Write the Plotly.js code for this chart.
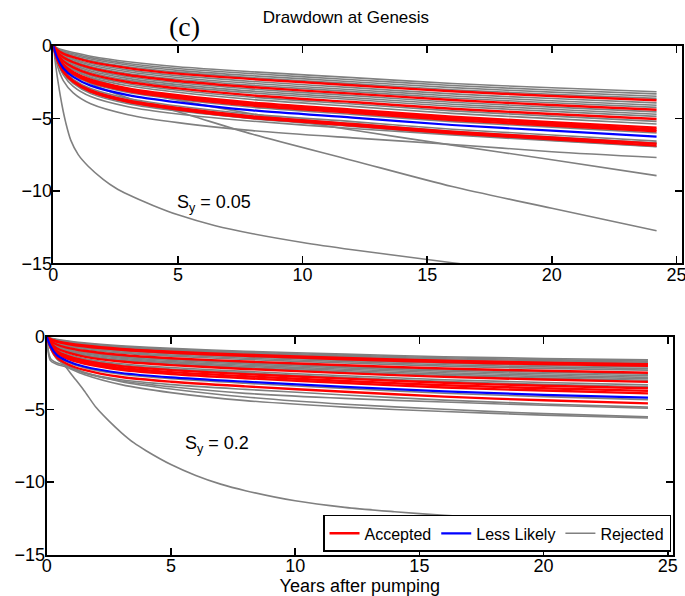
<!DOCTYPE html>
<html><head><meta charset="utf-8">
<script src="https://cdn.plot.ly/plotly-3.0.1.min.js"></script>
<style>html,body{margin:0;padding:0;background:#fff}#chart{width:685px;height:596px}</style>
</head><body><div id="chart"></div>
<script>
// Sample times (years after pumping)
const years = [0, 0.15, 0.4, 0.8, 1.5, 3, 5, 8, 12, 16, 20, 24.2];
const xTicks = [0, 5, 10, 15, 20, 25];
const yTicks = [0, -5, -10, -15];

// ---- Top panel (Sy = 0.05) ----
const topRejected = [
  [0,-0.15,-0.3,-0.47,-0.72,-1.1,-1.45,-1.8,-2.2,-2.6,-2.9,-3.17],
  [0,-0.18,-0.36,-0.55,-0.82,-1.22,-1.57,-1.93,-2.34,-2.74,-3.05,-3.32],
  [0,-0.22,-0.43,-0.64,-0.92,-1.33,-1.7,-2.07,-2.48,-2.89,-3.2,-3.48],
  [0,-0.25,-0.49,-0.72,-1.02,-1.45,-1.82,-2.2,-2.61,-3.03,-3.34,-3.63],
  [0,-0.31,-0.61,-0.89,-1.23,-1.68,-2.06,-2.46,-2.89,-3.32,-3.64,-3.94],
  [0,-0.35,-0.68,-0.97,-1.33,-1.79,-2.19,-2.6,-3.03,-3.46,-3.79,-4.1],
  [0,-0.38,-0.74,-1.06,-1.43,-1.91,-2.31,-2.73,-3.16,-3.6,-3.93,-4.25],
  [0,-0.44,-0.86,-1.23,-1.63,-2.14,-2.55,-2.99,-3.44,-3.89,-4.23,-4.56],
  [0,-0.48,-0.93,-1.31,-1.74,-2.25,-2.68,-3.13,-3.58,-4.03,-4.38,-4.72],
  [0,-0.51,-0.99,-1.39,-1.84,-2.37,-2.8,-3.26,-3.71,-4.17,-4.52,-4.87],
  [0,-0.58,-1.13,-1.58,-2.06,-2.62,-3.07,-3.55,-4.02,-4.49,-4.85,-5.21],
  [0,-0.62,-1.2,-1.68,-2.18,-2.76,-3.21,-3.71,-4.18,-4.66,-5.02,-5.39],
  [0,-0.75,-1.45,-2.02,-2.59,-3.22,-3.7,-4.24,-4.73,-5.23,-5.61,-6.01],
  [0,-0.87,-1.68,-2.32,-2.95,-3.63,-4.15,-4.72,-5.23,-5.75,-6.15,-6.57],
  [0,-0.9,-1.74,-2.4,-3.05,-3.75,-4.27,-4.85,-5.36,-5.89,-6.29,-6.72],
  [0,-0.94,-1.83,-2.52,-3.2,-3.91,-4.44,-5.03,-5.56,-6.09,-6.5,-6.94],
  [0,-1.05,-2.0,-2.8,-3.5,-4.2,-4.7,-5.2,-5.7,-6.15,-6.55,-6.95],
  [0,-0.95,-1.85,-2.6,-3.3,-4.0,-4.5,-5.0,-5.5,-5.95,-6.35,-6.7],
  [0,-0.6,-1.3,-1.9,-2.6,-3.6,-4.55,-6.1,-7.9,-9.7,-11.2,-12.75],
  [0,-0.5,-1.1,-1.6,-2.2,-3.0,-3.75,-4.7,-5.8,-6.85,-7.85,-8.95],
  [0,-1.3,-2.4,-3.25,-4.0,-4.75,-5.3,-5.85,-6.35,-6.8,-7.3,-7.7]
];
// fast-falling rejected curve, sampled more densely
const topSteepYears = [0, 0.1, 0.2, 0.35, 0.5, 0.7, 1.0, 1.4, 2.0, 2.5, 3, 4, 5, 6.5, 8, 10, 12, 14, 16, 18, 20, 24.2];
const topSteep = [0, -1.4, -2.6, -4.1, -5.3, -6.5, -7.5, -8.3, -9.2, -9.8, -10.25, -11.0, -11.65, -12.4, -12.95, -13.55, -14.05, -14.5, -14.95, -15.35, -15.7, -16.3];
const topAccepted = [
  [0,-0.27,-0.54,-0.79,-1.11,-1.54,-1.92,-2.3,-2.72,-3.14,-3.46,-3.76],
  [0,-0.41,-0.8,-1.14,-1.53,-2.02,-2.43,-2.86,-3.3,-3.74,-4.08,-4.41],
  [0,-0.55,-1.06,-1.49,-1.96,-2.5,-2.94,-3.42,-3.88,-4.34,-4.7,-5.05],
  [0,-0.67,-1.3,-1.81,-2.34,-2.94,-3.41,-3.92,-4.4,-4.89,-5.26,-5.64],
  [0,-0.7,-1.35,-1.88,-2.43,-3.03,-3.51,-4.03,-4.51,-5.0,-5.38,-5.77],
  [0,-0.72,-1.4,-1.95,-2.51,-3.12,-3.61,-4.13,-4.62,-5.12,-5.5,-5.89],
  [0,-0.9,-1.75,-2.42,-3.07,-3.77,-4.29,-4.87,-5.39,-5.92,-6.32,-6.75],
  [0,-0.93,-1.8,-2.49,-3.16,-3.86,-4.39,-4.98,-5.5,-6.03,-6.44,-6.88]
];
const topLessLikely = [
  [0,-0.8,-1.55,-2.15,-2.75,-3.4,-3.9,-4.45,-4.95,-5.46,-5.85,-6.26]
];

// ---- Bottom panel (Sy = 0.2) ----
const bottomRejected = [
  [0,-0.1,-0.18,-0.28,-0.42,-0.62,-0.8,-1.0,-1.2,-1.38,-1.5,-1.6],
  [0,-0.12,-0.21,-0.32,-0.47,-0.68,-0.86,-1.06,-1.27,-1.45,-1.58,-1.68],
  [0,-0.13,-0.24,-0.36,-0.52,-0.73,-0.92,-1.13,-1.34,-1.52,-1.65,-1.76],
  [0,-0.15,-0.28,-0.4,-0.57,-0.79,-0.98,-1.19,-1.4,-1.6,-1.73,-1.83],
  [0,-0.2,-0.38,-0.54,-0.73,-0.98,-1.18,-1.4,-1.63,-1.83,-1.98,-2.09],
  [0,-0.23,-0.43,-0.6,-0.79,-1.05,-1.26,-1.48,-1.72,-1.93,-2.08,-2.2],
  [0,-0.25,-0.47,-0.65,-0.86,-1.13,-1.34,-1.57,-1.81,-2.03,-2.18,-2.3],
  [0,-0.31,-0.59,-0.8,-1.04,-1.33,-1.56,-1.8,-2.06,-2.29,-2.45,-2.59],
  [0,-0.33,-0.63,-0.86,-1.1,-1.41,-1.64,-1.88,-2.15,-2.38,-2.55,-2.69],
  [0,-0.35,-0.67,-0.91,-1.17,-1.48,-1.72,-1.97,-2.24,-2.48,-2.65,-2.8],
  [0,-0.38,-0.72,-0.97,-1.24,-1.56,-1.8,-2.05,-2.33,-2.58,-2.75,-2.9],
  [0,-0.4,-0.76,-1.02,-1.3,-1.64,-1.88,-2.13,-2.42,-2.67,-2.85,-3.0],
  [0,-0.46,-0.89,-1.18,-1.5,-1.86,-2.12,-2.39,-2.69,-2.96,-3.15,-3.32],
  [0,-0.49,-0.94,-1.25,-1.58,-1.95,-2.22,-2.49,-2.8,-3.08,-3.28,-3.45],
  [0,-0.68,-1.3,-1.72,-2.13,-2.59,-2.9,-3.21,-3.56,-3.89,-4.13,-4.33],
  [0,-0.79,-1.52,-1.99,-2.46,-2.97,-3.3,-3.63,-4.01,-4.37,-4.63,-4.85],
  [0,-0.8,-1.5,-2.0,-2.5,-3.05,-3.45,-3.9,-4.25,-4.5,-4.72,-4.93],
  [0,-1.65,-1.9,-2.1,-2.6,-3.3,-3.85,-4.4,-4.85,-5.15,-5.4,-5.6],
  [0,-1.5,-1.8,-2.0,-2.45,-3.1,-3.6,-4.15,-4.65,-5.0,-5.3,-5.52]
];
const bottomSteepYears = [0, 0.3, 0.6, 1.0, 1.5, 2.0, 2.5, 3.0, 3.5, 4, 5, 6, 7, 8, 10, 12, 14, 16, 18, 20, 22, 24.2];
const bottomSteep = [0, -0.9, -1.7, -2.6, -3.7, -4.9, -5.8, -6.6, -7.3, -7.85, -8.8, -9.55, -10.15, -10.6, -11.3, -11.75, -12.05, -12.3, -12.5, -12.7, -12.85, -12.98];
const bottomAccepted = [
  [0,-0.16,-0.3,-0.44,-0.61,-0.84,-1.03,-1.24,-1.46,-1.65,-1.79,-1.9],
  [0,-0.18,-0.34,-0.49,-0.67,-0.91,-1.11,-1.32,-1.55,-1.75,-1.89,-2.0],
  [0,-0.29,-0.54,-0.75,-0.97,-1.26,-1.48,-1.71,-1.97,-2.19,-2.35,-2.48],
  [0,-0.42,-0.8,-1.07,-1.37,-1.71,-1.96,-2.22,-2.51,-2.77,-2.95,-3.11],
  [0,-0.51,-0.98,-1.31,-1.64,-2.03,-2.3,-2.58,-2.89,-3.17,-3.38,-3.55],
  [0,-0.55,-1.06,-1.4,-1.76,-2.16,-2.44,-2.72,-3.05,-3.34,-3.55,-3.73],
  [0,-0.59,-1.13,-1.49,-1.86,-2.28,-2.57,-2.86,-3.19,-3.5,-3.71,-3.9],
  [0,-0.73,-1.41,-1.86,-2.29,-2.78,-3.1,-3.42,-3.79,-4.13,-4.38,-4.59]
];
const bottomLessLikely = [
  [0,-0.65,-1.25,-1.65,-2.05,-2.5,-2.8,-3.1,-3.45,-3.77,-4.0,-4.2]
];

const FONT = 'Liberation Sans, Arial, Helvetica, sans-serif';
const styles = {
  Rejected:      {color: '#808080', width: 1.6, rank: 3},
  Accepted:      {color: '#ff0000', width: 2.4, rank: 1},
  'Less Likely': {color: '#0000ff', width: 2.2, rank: 2}
};

const traces = [];
function addLine(xs, vals, name, xa, ya, show) {
  const st = styles[name];
  traces.push({
    type: 'scatter', mode: 'lines', x: xs, y: vals,
    xaxis: xa, yaxis: ya, name: name, legendgroup: name,
    showlegend: show, legendrank: st.rank,
    line: {color: st.color, width: st.width, shape: 'spline', smoothing: 0.8},
    hoverinfo: 'skip'
  });
}
function addGroup(series, name, xa, ya, legend) {
  series.forEach((vals, i) => addLine(years, vals, name, xa, ya, legend && i === 0));
}
addGroup(topRejected, 'Rejected', 'x', 'y', false);
addLine(topSteepYears, topSteep, 'Rejected', 'x', 'y', false);
addGroup(topAccepted, 'Accepted', 'x', 'y', false);
addGroup(topLessLikely, 'Less Likely', 'x', 'y', false);
addGroup(bottomRejected, 'Rejected', 'x2', 'y2', true);
addLine(bottomSteepYears, bottomSteep, 'Rejected', 'x2', 'y2', false);
addGroup(bottomAccepted, 'Accepted', 'x2', 'y2', true);
addGroup(bottomLessLikely, 'Less Likely', 'x2', 'y2', true);
// empty carriers so the label-only axes are drawn (they hold no marks)
[['x', 'y3'], ['x2', 'y4'], ['x3', 'y'], ['x4', 'y2']].forEach(([xa, ya]) => {
  traces.push({type: 'scatter', mode: 'lines', x: [], y: [], xaxis: xa, yaxis: ya, showlegend: false, hoverinfo: 'skip'});
});

const tickFont = {family: FONT, size: 18, color: '#000'};
const axisBase = {
  showline: true, linecolor: '#000', linewidth: 2, mirror: 'ticks',
  ticks: 'inside', ticklen: 7, tickwidth: 1.5, tickcolor: '#000',
  showgrid: false, zeroline: false, automargin: false, fixedrange: true,
  ticklabeloverflow: 'allow', tickfont: tickFont, showticklabels: false
};
// label-only axes, placed a little closer to the frame than the default
const labelAxis = {
  showline: false, ticks: '', showgrid: false, zeroline: false, automargin: false,
  fixedrange: true, tickfont: tickFont, anchor: 'free', ticklabeloverflow: 'allow'
};

const layout = {
  width: 685, height: 596,
  margin: {l: 0, r: 0, t: 0, b: 0},
  paper_bgcolor: '#fff', plot_bgcolor: '#fff',
  font: {family: FONT, color: '#000'},
  title: {text: 'Drawdown at Genesis', x: 0.505, xanchor: 'center', xref: 'paper',
          y: 0.971, yref: 'paper', yanchor: 'middle', font: {family: FONT, size: 17, color: '#000'}},
  xaxis: Object.assign({}, axisBase, {domain: [0.0778, 0.9949], range: [0, 25.2], tickvals: xTicks, anchor: 'y'}),
  yaxis: Object.assign({}, axisBase, {domain: [0.5579, 0.9233], range: [-15, 0], tickvals: yTicks, anchor: 'x'}),
  xaxis2: Object.assign({}, axisBase, {domain: [0.0682, 0.9822], range: [0, 25.2], tickvals: xTicks, anchor: 'y2'}),
  yaxis2: Object.assign({}, axisBase, {domain: [0.0695, 0.4351], range: [-15, 0], tickvals: yTicks, anchor: 'x2'}),
  yaxis3: Object.assign({}, labelAxis, {overlaying: 'y', side: 'left', position: 0.0759, range: [-15, 0], tickvals: yTicks}),
  yaxis4: Object.assign({}, labelAxis, {overlaying: 'y2', side: 'left', position: 0.0657, range: [-15, 0], tickvals: yTicks}),
  xaxis3: Object.assign({}, labelAxis, {overlaying: 'x', side: 'bottom', position: 0.5600, range: [0, 25.2], tickvals: xTicks}),
  xaxis4: Object.assign({}, labelAxis, {overlaying: 'x2', side: 'bottom', position: 0.0720, range: [0, 25.2], tickvals: xTicks,
          title: {text: 'Years after pumping', font: {family: FONT, size: 18, color: '#000'}, standoff: 7}}),
  showlegend: true,
  legend: {orientation: 'h', x: 0.9796, xanchor: 'right', y: 0.074, yanchor: 'bottom',
           bgcolor: '#fff', bordercolor: '#000', borderwidth: 1.5,
           font: {family: FONT, size: 16, color: '#000'}, traceorder: 'normal'},
  annotations: [
    {text: '(c)', xref: 'paper', yref: 'paper', x: 0.27, y: 0.956, xanchor: 'center', yanchor: 'middle',
     showarrow: false, font: {family: 'Liberation Serif, Times New Roman, serif', size: 28, color: '#000'}},
    {text: 'S<sub>y</sub> = 0.05', xref: 'x', yref: 'y', x: 4.87, y: -10.9, xanchor: 'left', yanchor: 'middle',
     showarrow: false, font: {family: FONT, size: 18, color: '#000'}},
    {text: 'S<sub>y</sub> = 0.2', xref: 'x2', yref: 'y2', x: 5.5, y: -7.4, xanchor: 'left', yanchor: 'middle',
     showarrow: false, font: {family: FONT, size: 18, color: '#000'}}
  ]
};

Plotly.newPlot('chart', traces, layout, {staticPlot: true, displayModeBar: false});
</script>
</body></html>
